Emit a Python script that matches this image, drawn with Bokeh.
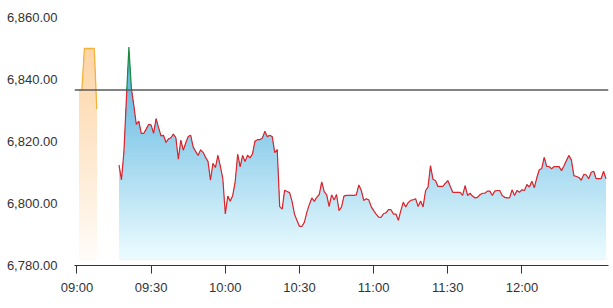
import numpy as np
import pandas as pd
from bokeh.plotting import figure
from bokeh.models import Span, FixedTicker, NumeralTickFormatter, DatetimeTickFormatter, Range1d
from bokeh.embed import file_html
from bokeh.resources import INLINE

# ---------------- data ----------------
DAY = "2024-01-02"
prev_close = 6836.6

pre_times = ["09:01", "09:02", "09:03", "09:04", "09:05", "09:06", "09:07", "09:08"]
pre_values = [6836.6, 6836.6, 6850.0, 6850.0, 6850.0, 6850.0, 6850.0, 6830.5]

main_start = "09:17"  # one value per minute from here
main_values = [
    6812.4, 6807.6, 6816.7, 6834.0, 6850.5, 6837.2, 6831.6, 6825.5, 6826.6, 6822.6,
    6822.6, 6824.0, 6825.5, 6825.3, 6822.6, 6827.4, 6824.5, 6821.8, 6822.0, 6819.7,
    6820.8, 6821.2, 6822.4, 6821.2, 6814.3, 6820.4, 6817.2, 6819.5, 6821.6, 6822.0,
    6818.2, 6816.8, 6815.5, 6817.3, 6816.5, 6814.9, 6813.6, 6807.5, 6812.9, 6811.6,
    6815.5, 6812.0, 6808.0, 6796.6, 6802.4, 6800.7, 6802.6, 6807.0, 6815.9, 6811.8,
    6815.5, 6813.5, 6815.6, 6814.7, 6816.0, 6820.1, 6820.6, 6820.6, 6821.1, 6823.3,
    6821.5, 6822.0, 6821.5, 6816.4, 6817.4, 6799.0, 6798.2, 6804.3, 6803.9, 6803.5,
    6800.7, 6796.5, 6794.5, 6792.6, 6792.6, 6794.0, 6797.2, 6799.7, 6801.8, 6800.7,
    6802.0, 6802.9, 6807.0, 6803.8, 6802.8, 6799.0, 6802.8, 6801.1, 6802.9, 6797.7,
    6798.8, 6802.4, 6802.6, 6802.6, 6802.6, 6802.6, 6802.8, 6806.0, 6804.2, 6801.0,
    6801.5, 6801.2, 6799.0, 6797.7, 6796.6, 6795.6, 6795.5, 6796.7, 6797.0, 6798.0,
    6798.0, 6796.6, 6796.6, 6794.6, 6797.7, 6800.4, 6798.9, 6800.3, 6801.0, 6801.2,
    6801.5, 6799.0, 6800.8, 6798.9, 6804.1, 6805.3, 6812.2, 6807.8, 6807.4, 6805.5,
    6805.5, 6805.5, 6806.5, 6807.4, 6805.5, 6803.6, 6803.6, 6803.6, 6803.6, 6802.6,
    6805.8, 6802.6, 6803.3, 6802.4, 6801.8, 6802.0, 6802.8, 6803.3, 6803.3, 6804.0,
    6804.0, 6802.6, 6804.0, 6804.2, 6804.2, 6802.6, 6802.0, 6801.8, 6801.8, 6804.4,
    6802.6, 6804.2, 6803.6, 6804.4, 6804.2, 6806.1, 6805.3, 6807.2, 6805.1, 6808.3,
    6810.9, 6811.3, 6814.9, 6812.0, 6811.9, 6811.2, 6811.9, 6811.9, 6811.9, 6810.6,
    6812.2, 6813.9, 6815.5, 6814.0, 6809.0, 6808.7, 6808.4, 6807.5, 6809.4, 6809.2,
    6808.0, 6810.1, 6810.4, 6808.0, 6808.0, 6808.0, 6810.4, 6808.0,
]

x_tick_labels = ["09:00", "09:30", "10:00", "10:30", "11:00", "11:30", "12:00"]
y_ticks = [6780, 6800, 6820, 6840, 6860]
x_start_label, x_end_label = "08:59", "12:35"
y_min, y_max = 6780, 6862.26
fill_base = 6782.0


def ms(labels):
    return (pd.to_datetime([f"{DAY} {t}" for t in labels]).astype("int64") // 10**6).astype(float).to_numpy()


pre_x = ms(pre_times)
main_idx = pd.date_range(f"{DAY} {main_start}", periods=len(main_values), freq="1min")
main_x = (main_idx.astype("int64") // 10**6).astype(float).to_numpy()
pre_y = np.array(pre_values, dtype=float)
main_y = np.array(main_values, dtype=float)

# ---------------- helpers ----------------
def mix(c0, c1, f):
    return "#%02x%02x%02x" % tuple(int(round(a + (b - a) * f)) for a, b in zip(c0, c1))


def densify(x, y, levels):
    xs, ys = [x[0]], [y[0]]
    for i in range(1, len(y)):
        a, b = y[i - 1], y[i]
        if a != b:
            lo, hi = min(a, b), max(a, b)
            cross = [l for l in levels if lo < l < hi]
            cross.sort(reverse=(b < a))
            for l in cross:
                f = (l - a) / (b - a)
                xs.append(x[i - 1] + f * (x[i] - x[i - 1]))
                ys.append(l)
        xs.append(x[i])
        ys.append(y[i])
    return np.array(xs), np.array(ys)


def gradient_area(p, x, y, base, top, c_top, c_bot, n=64):
    edges = np.linspace(base, top, n + 1)
    dx, dy = densify(x, y, list(edges))
    for k in range(n - 1, -1, -1):
        f = (k + 0.5) / n
        col = mix(c_bot, c_top, f)
        y2 = np.clip(dy, base, edges[k + 1])
        p.varea(x=dx, y1=base, y2=y2, fill_color=col, fill_alpha=1.0)


def split_line(x, y, level):
    xs, ys = [x[0]], [y[0]]
    for i in range(1, len(y)):
        a, b = y[i - 1], y[i]
        if (a - level) * (b - level) < 0:
            f = (level - a) / (b - a)
            xs.append(x[i - 1] + f * (x[i] - x[i - 1]))
            ys.append(level)
        xs.append(x[i])
        ys.append(y[i])
    xs, ys = np.array(xs), np.array(ys)
    above = np.where(ys >= level, ys, np.nan)
    below = np.where(ys <= level, ys, np.nan)
    return xs, above, below


# ---------------- figure ----------------
xr = ms([x_start_label, x_end_label])
p = figure(width=613, height=308, x_axis_type="datetime", output_backend="svg",
           toolbar_location=None, x_range=Range1d(xr[0], xr[1]), y_range=Range1d(y_min, y_max),
           min_border_left=74, min_border_right=5, min_border_top=10, min_border_bottom=43)
p.outline_line_color = None
p.xgrid.visible = False
p.ygrid.visible = False
p.background_fill_color = "white"
p.border_fill_color = "white"

# areas
gradient_area(p, pre_x, pre_y, fill_base, pre_y.max(), (253, 212, 165), (255, 252, 248))
gradient_area(p, main_x, main_y, fill_base, main_y.max(), (78, 174, 220), (236, 252, 255))

# previous close line
p.add_layout(Span(location=prev_close, dimension="width", line_color="#5a5a5a", line_width=1.5))

# lines
p.line(pre_x, pre_y, line_color="#f2b33d", line_width=1.3)
sx, above, below = split_line(main_x, main_y, prev_close)
p.line(sx, below, line_color="#e0232b", line_width=1.2)
p.line(sx, above, line_color="#1b8a3a", line_width=1.2)

# axes
FONT = "Liberation Sans"
p.xaxis.ticker = FixedTicker(ticks=list(ms(x_tick_labels)))
fmt = "%H:%M"
p.xaxis.formatter = DatetimeTickFormatter(microseconds=fmt, milliseconds=fmt, seconds=fmt, minsec=fmt,
                                          minutes=fmt, hourmin=fmt, hours=fmt, days=fmt, months=fmt, years=fmt)
p.xaxis.axis_line_color = "#333333"
p.xaxis.axis_line_width = 1.2
p.xaxis.major_tick_line_color = "#333333"
p.xaxis.major_tick_out = 8
p.xaxis.major_tick_in = 0
p.xaxis.minor_tick_line_color = None
p.xaxis.major_label_standoff = 6
p.xaxis.major_label_text_font = FONT
p.xaxis.major_label_text_font_size = "13px"
p.xaxis.major_label_text_color = "#333333"

p.yaxis.ticker = FixedTicker(ticks=y_ticks)
p.yaxis.formatter = NumeralTickFormatter(format="0,0.00")
p.yaxis.axis_line_color = None
p.yaxis.major_tick_line_color = None
p.yaxis.minor_tick_line_color = None
p.yaxis.major_tick_out = 0
p.yaxis.major_tick_in = 0
p.yaxis.major_label_standoff = 17
p.yaxis.major_label_text_font = FONT
p.yaxis.major_label_text_font_size = "13px"
p.yaxis.major_label_text_color = "#333333"

open("out.html", "w").write(file_html(p, INLINE))
